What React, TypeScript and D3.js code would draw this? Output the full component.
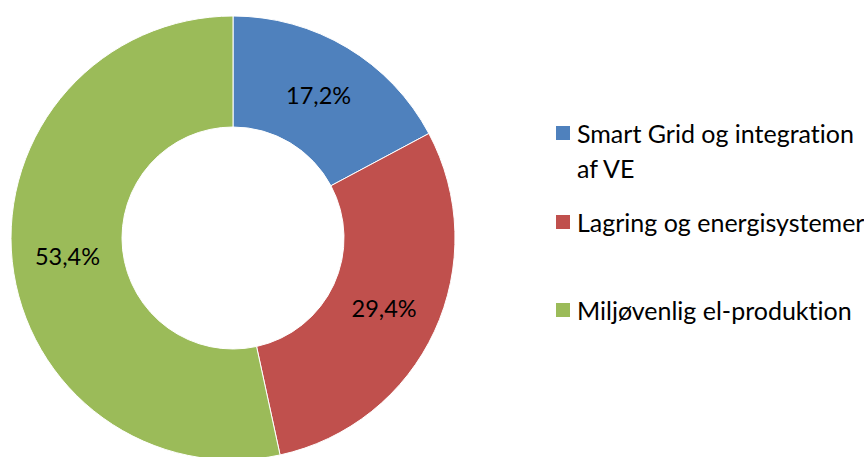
import React from "react";
import * as d3 from "d3";

const categories = ["Smart Grid og integration af VE", "Lagring og energisystemer", "Miljøvenlig el-produktion"];
const legendLines = [["Smart Grid og integration", "af VE"], ["Lagring og energisystemer"], ["Miljøvenlig el-produktion"]];
const values = [17.2, 29.4, 53.4];
const labels = ["17,2%", "29,4%", "53,4%"];
const colors = ["#4F81BD", "#C0504D", "#9BBB59"];

const W = 864, H = 457;
const cx = 233, cy = 238, rOuter = 222, rInner = 111;
const font = "Lato, 'Open Sans', sans-serif";

export default function App() {
  const pie = d3.pie<number>().value((d) => d).sort(null);
  const arcs = pie(values);
  const arc = d3.arc<d3.PieArcDatum<number>>().innerRadius(rInner).outerRadius(rOuter);
  const labelArc = d3.arc<d3.PieArcDatum<number>>().innerRadius((rInner + rOuter) / 2).outerRadius((rInner + rOuter) / 2);
  const legendY = [133, 222, 310];
  const textStyle = { fontVariantLigatures: "none", fontFeatureSettings: '"liga" 0, "clig" 0, "dlig" 0' } as React.CSSProperties;
  return (
    <svg width={W} height={H} style={{ position: "absolute", left: 0, top: 0, background: "#fff" }} fontFamily={font}>
      <g transform={`translate(${cx},${cy})`}>
        {arcs.map((a, i) => (
          <path key={categories[i]} d={arc(a) || ""} fill={colors[i]} stroke="#fff" strokeWidth={1} />
        ))}
        {arcs.map((a, i) => {
          const [x, y] = labelArc.centroid(a);
          return (
            <text key={"l" + i} x={x} y={y} textAnchor="middle" dominantBaseline="central" fontSize={23.5} fill="#000" style={textStyle}>
              {labels[i]}
            </text>
          );
        })}
      </g>
      {legendLines.map((lines, i) => (
        <g key={"lg" + i}>
          <rect x={556} y={legendY[i] - 7} width={14} height={14} fill={colors[i]} />
          {lines.map((ln, j) => (
            <text key={j} x={577} y={legendY[i] + j * 35} dominantBaseline="central" fontSize={25} fill="#000" style={textStyle}>
              {ln}
            </text>
          ))}
        </g>
      ))}
    </svg>
  );
}
